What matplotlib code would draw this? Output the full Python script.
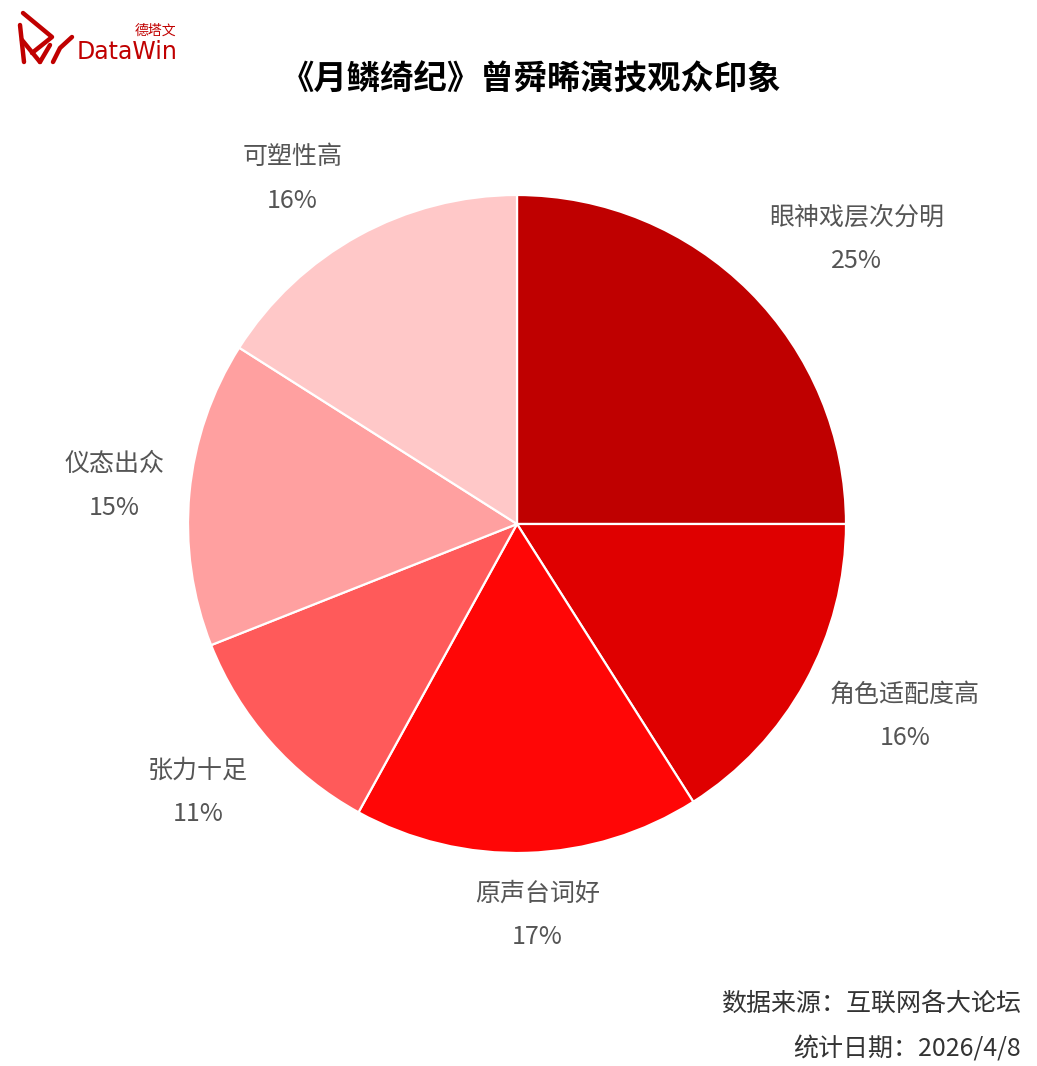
import numpy as np
import matplotlib
matplotlib.use("Agg")
import matplotlib.pyplot as plt
from matplotlib.lines import Line2D

plt.rcParams['font.family'] = ['Noto Sans CJK SC', 'DejaVu Sans']

categories = ["眼神戏层次分明", "角色适配度高", "原声台词好", "张力十足", "仪态出众", "可塑性高"]
values = [25, 16, 17, 11, 15, 16]
colors = ["#BF0000", "#DF0000", "#FF0606", "#FF5A5A", "#FFA0A0", "#FFC8C8"]
title = "《月鳞绮纪》曾舜晞演技观众印象"
source_text = "数据来源：互联网各大论坛"
date_text = "统计日期：2026/4/8"

W, H = 1037, 1066
fig = plt.figure(figsize=(W / 100, H / 100), dpi=100)
fig.patch.set_facecolor("white")

cx, cy, R = 517, 524, 329
ax = fig.add_axes([(cx - R) / W, (H - cy - R) / H, 2 * R / W, 2 * R / H])
wedges, _ = ax.pie(values, colors=colors, startangle=90, counterclock=False,
                   radius=1.0, wedgeprops=dict(edgecolor="white", linewidth=1.6))
ax.set_xlim(-1, 1)
ax.set_ylim(-1, 1)
ax.set_aspect("equal")
ax.axis("off")

# label layout nudges (pixels) relative to an anchor at r=1.22 along the mid-angle
nudges = [(56, 1), (36, 1), (8, 10), (-18, -3), (-3, 0), (-31, -7)]
total = sum(values)
cum = 0
for (name, v), (ndx, ndy) in zip(zip(categories, values), nudges):
    mid = 90 - 360 * (cum + v / 2) / total
    cum += v
    a = np.deg2rad(mid)
    r = 1.22
    x = r * np.cos(a) + ndx / R
    y = r * np.sin(a) + ndy / R
    ax.text(x, y + 22 / R, name, ha="center", va="center", fontsize=18, color="#555555", clip_on=False)
    ax.text(x, y - 22 / R, f"{round(v)}%", ha="center", va="center", fontsize=18, color="#555555", clip_on=False)

fig.text(531 / W, 1 - 80 / H, title, ha="center", va="center", fontsize=24,
         fontweight="bold", color="#000000")
fig.text(1021 / W, 1 - 1004 / H, source_text, ha="right", va="center", fontsize=18, color="#333333")
fig.text(1021 / W, 1 - 1049 / H, date_text, ha="right", va="center", fontsize=18, color="#333333")

# logo
logo_red = "#C00000"
fig.text(77 / W, 1 - 52 / H, "DataWin", ha="left", va="center", fontsize=17,
         color=logo_red, family=["DejaVu Sans"])
fig.text(176 / W, 1 - 31 / H, "德塔文", ha="right", va="center", fontsize=10, color=logo_red)
segs = [[(23, 13), (52, 37), (32, 53)], [(20, 25), (24, 62)], [(22, 40), (40, 62)],
        [(40, 62), (50, 45)], [(53, 62), (60, 48), (72, 37)]]
for s in segs:
    xs = [p[0] / W for p in s]
    ys = [1 - p[1] / H for p in s]
    fig.add_artist(Line2D(xs, ys, color=logo_red, linewidth=3.2,
                          solid_capstyle="round", solid_joinstyle="round"))

fig.savefig("out.png", dpi=100, facecolor="white")
